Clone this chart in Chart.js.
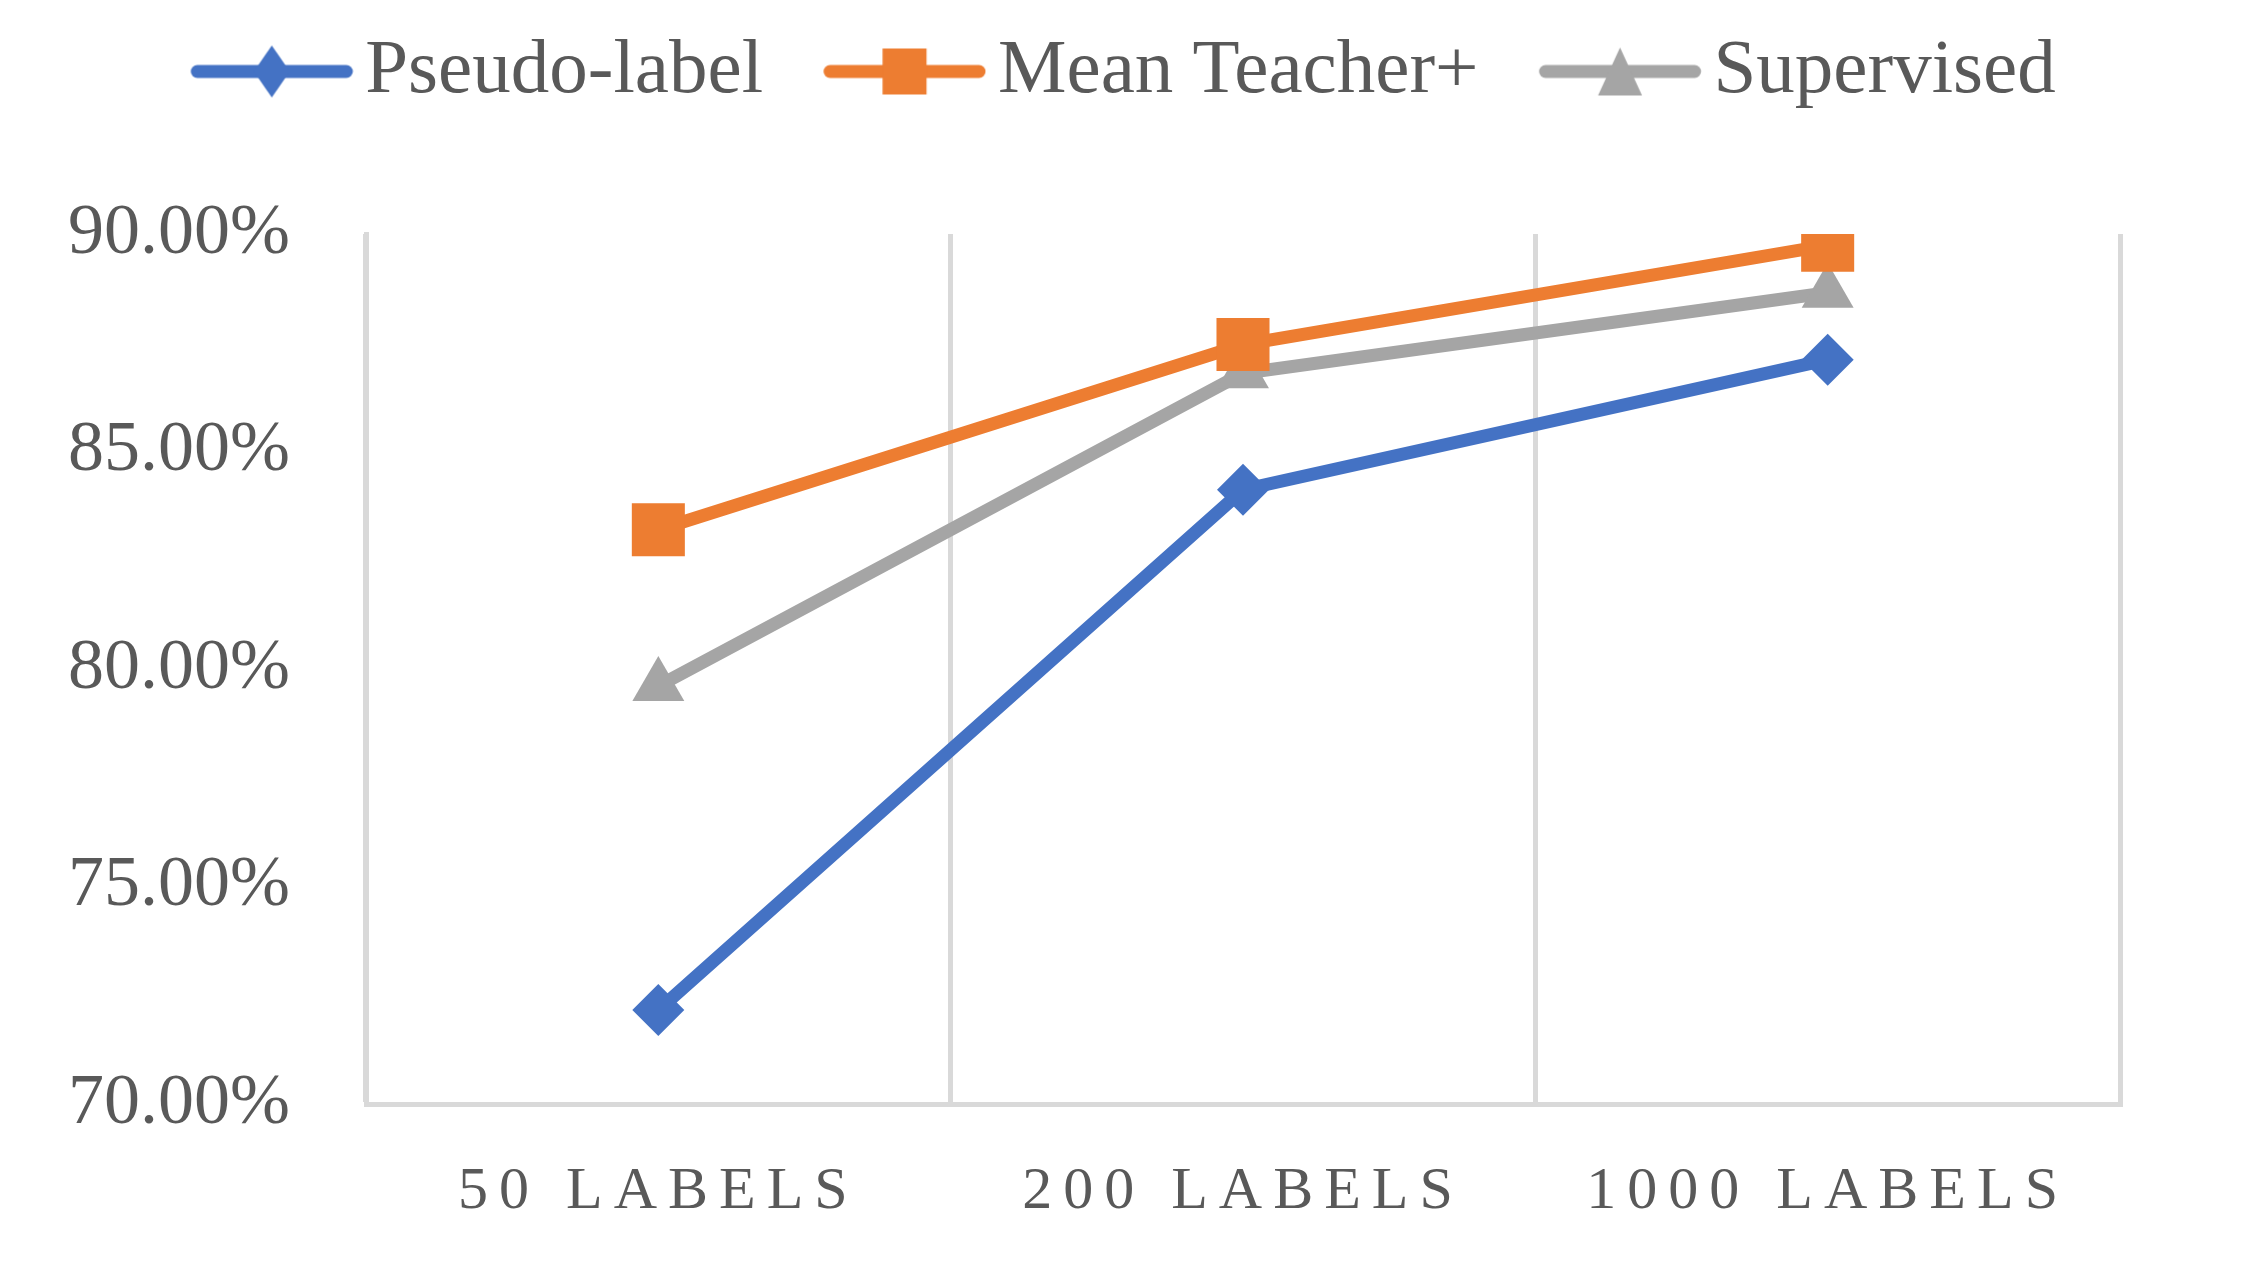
<!DOCTYPE html>
<html>
<head>
<meta charset="utf-8">
<title>Pseudo-label x Mean Teacher+ x Supervised</title>
<script src="https://cdn.jsdelivr.net/npm/chart.js@4.4.0/dist/chart.umd.min.js"></script>
<style>
    html, body { margin: 0; padding: 0; background: #ffffff; }
    #area { width: 2253px; height: 1272px; }
</style>
</head>
<body>
<div id="area"><canvas id="graficoAcuracia" width="2253" height="1272"></canvas></div>
<script>
// Dados
const categorias = ['50 LABELS', '200 LABELS', '1000 LABELS'];
const nomesSeries = ['Pseudo-label', 'Mean Teacher+', 'Supervised'];
const pseudoLabel = [72.16, 84.12, 87.11];
const meanTeacher = [83.20, 87.46, 89.74];
const supervisionado = [79.61, 86.80, 88.65];
const ticksY = [70, 75, 80, 85, 90];

const CORES = ['#4472C4', '#ED7D31', '#A5A5A5'];
const COR_TEXTO = '#595959';
const COR_GRADE = '#D9D9D9';
const FONTE = "'Liberation Serif', 'Times New Roman', serif";
const TAM_LEGENDA = 77;

// amostra da legenda: linha + marcador (como no Excel)
const larguraLinha = 163;
const folgaTexto = 12;
const espacoItens = 60;   // distância entre um texto e a próxima amostra
const paddingLegenda = 15;
const extra = espacoItens - paddingLegenda;
const larguraCaixa = extra + larguraLinha + folgaTexto - TAM_LEGENDA / 2;

function criarIconeLegenda(cor, estilo) {
    const meia = Math.max(extra / 2 + larguraLinha - larguraCaixa / 2 + extra / 2, larguraCaixa / 2);
    const largura = Math.ceil(2 * meia);
    const altura = 60;
    const inicio = largura / 2 - larguraCaixa / 2 + extra;
    const c = document.createElement('canvas');
    c.width = largura;
    c.height = altura;
    const ctx = c.getContext('2d');
    const cy = altura / 2;
    const cx = inicio + larguraLinha / 2;

    ctx.strokeStyle = cor;
    ctx.fillStyle = cor;
    ctx.lineWidth = 13;
    ctx.lineCap = 'round';
    ctx.beginPath();
    ctx.moveTo(inicio + 7, cy);
    ctx.lineTo(inicio + larguraLinha - 7, cy);
    ctx.stroke();

    ctx.beginPath();
    if (estilo === 'rectRot') {
        ctx.moveTo(cx, cy - 26);
        ctx.lineTo(cx + 18, cy);
        ctx.lineTo(cx, cy + 26);
        ctx.lineTo(cx - 18, cy);
    } else if (estilo === 'rect') {
        ctx.rect(cx - 22, cy - 23, 44, 46);
    } else {
        ctx.moveTo(cx, cy - 24);
        ctx.lineTo(cx + 22, cy + 24);
        ctx.lineTo(cx - 22, cy + 24);
    }
    ctx.closePath();
    ctx.fill();
    return c;
}

// espaçamento entre letras nos rótulos do eixo X
const espacamentoEixoX = {
    id: 'espacamentoEixoX',
    beforeDraw(chart) {
        const eixo = chart.scales.x;
        if (!eixo || eixo._comEspaco) return;
        const original = eixo.drawLabels;
        eixo.drawLabels = function (area) {
            this.ctx.save();
            this.ctx.letterSpacing = '11px';
            original.call(this, area);
            this.ctx.restore();
        };
        eixo._comEspaco = true;
    }
};

// altura fixa da legenda, para a área do gráfico começar em 90%
const alturaLegenda = {
    id: 'alturaLegenda',
    beforeLayout(chart) {
        const leg = chart.legend;
        if (!leg || leg._ajustada) return;
        const fit = leg.fit;
        leg.fit = function () {
            fit.call(this);
            this.height = 216;
        };
        leg._ajustada = true;
    },
    afterLayout(chart) {
        // compensa o espaço vazio antes da primeira amostra
        const leg = chart.legend;
        if (!leg) return;
        leg.left -= 26;
        leg.right -= 26;
    }
};

function criarSerie(indice, valores, estilo, raio) {
    return {
        label: nomesSeries[indice],
        data: valores,
        borderColor: CORES[indice],
        backgroundColor: CORES[indice],
        borderWidth: 13,
        pointStyle: estilo,
        pointRadius: raio,
        pointBorderWidth: 0,
        pointBackgroundColor: CORES[indice],
        tension: 0,
        iconeLegenda: criarIconeLegenda(CORES[indice], estilo)
    };
}

const ctx = document.getElementById('graficoAcuracia');

new Chart(ctx, {
    type: 'line',
    data: {
        labels: categorias,
        datasets: [
            criarSerie(0, pseudoLabel, 'rectRot', 26),
            criarSerie(1, meanTeacher, 'rect', 37.5),
            criarSerie(2, supervisionado, 'triangle', 30)
        ]
    },
    plugins: [espacamentoEixoX, alturaLegenda],
    options: {
        responsive: false,
        animation: false,
        devicePixelRatio: 1,
        layout: {
            padding: { top: 18, left: 0, right: 0, bottom: 0 }
        },
        plugins: {
            tooltip: { enabled: false },
            legend: {
                position: 'top',
                align: 'center',
                labels: {
                    usePointStyle: true,
                    pointStyleWidth: larguraCaixa,
                    padding: paddingLegenda,
                    color: COR_TEXTO,
                    font: { family: FONTE, size: TAM_LEGENDA },
                    generateLabels(chart) {
                        return chart.data.datasets.map((ds, i) => ({
                            text: ds.label,
                            fillStyle: ds.borderColor,
                            strokeStyle: ds.borderColor,
                            lineWidth: 0,
                            pointStyle: ds.iconeLegenda,
                            fontColor: COR_TEXTO,
                            hidden: false,
                            datasetIndex: i
                        }));
                    }
                }
            }
        },
        scales: {
            x: {
                offset: true,
                grid: {
                    offset: true,
                    color: COR_GRADE,
                    lineWidth: 5,
                    drawTicks: false
                },
                border: { display: true, color: COR_GRADE, width: 5 },
                ticks: {
                    padding: 52,
                    color: COR_TEXTO,
                    maxRotation: 0,
                    font: { family: FONTE, size: 60 }
                },
                afterFit(eixo) { eixo.height = 168; }
            },
            y: {
                min: ticksY[0],
                max: ticksY[ticksY.length - 1],
                grid: { display: false, drawTicks: false },
                border: { display: true, color: COR_GRADE, width: 5 },
                afterBuildTicks(eixo) {
                    eixo.ticks = ticksY.map(v => ({ value: v }));
                },
                ticks: {
                    padding: 76,
                    color: COR_TEXTO,
                    font: { family: FONTE, size: 72 },
                    callback: v => v.toFixed(2) + '%'
                },
                afterFit(eixo) { eixo.width = 366; }
            },
            // margem da direita (sem desenho)
            margemDireita: {
                type: 'linear',
                position: 'right',
                display: true,
                grid: { display: false, drawTicks: false },
                border: { display: false },
                ticks: { display: false },
                afterFit(eixo) { eixo.width = 133; }
            }
        }
    }
});
</script>
</body>
</html>
